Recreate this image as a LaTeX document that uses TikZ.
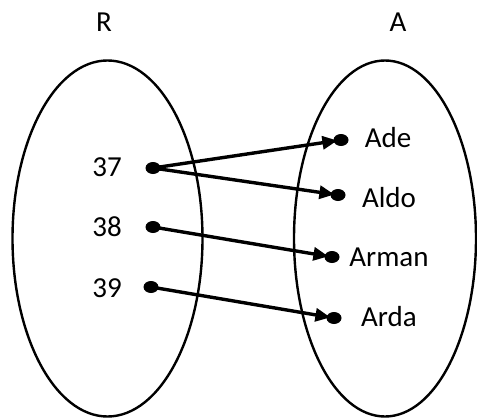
\documentclass[tikz,border=0pt]{standalone}
\usepackage{fontspec}
\setmainfont{Carlito}
\usetikzlibrary{arrows.meta,shapes.geometric}
\begin{document}
\begin{tikzpicture}[x=1pt,y=-1pt,
  setline/.style={line width=2.4pt},
  label/.style={inner sep=0pt,text height=18.5pt,text depth=0pt,
    font=\fontsize{29}{34}\selectfont},
  dot/.style={ellipse,fill=black,inner sep=0pt,minimum width=15pt,minimum height=12pt},
  maparrow/.style={line width=3.4pt,-{Triangle[length=15pt,width=13pt]},shorten >=-4pt}]
\useasboundingbox (0,0) rectangle (477,420);
% the two sets
\draw[setline] (107.5,238.5) ellipse [x radius=95, y radius=178];
\draw[setline] (385,238.5) ellipse [x radius=91, y radius=178];
% set names
\node[label] (R) at (104,22) {R};
\node[label] (A) at (398,22) {A};
% elements of R
\node[label] (n37) at (107,167) {37};
\node[label] (n38) at (107,227) {38};
\node[label] (n39) at (107,288) {39};
\node[dot] (d37) at (153,168) {};
\node[dot] (d38) at (153,227) {};
\node[dot] (d39) at (151,287) {};
% elements of A
\node[label] (ade) at (388,138) {Ade};
\node[label] (aldo) at (389,198) {Aldo};
\node[label] (arman) at (389,257) {Arman};
\node[label] (arda) at (389,317) {Arda};
\node[dot] (dade) at (341,140) {};
\node[dot] (daldo) at (338,195) {};
\node[dot] (darman) at (332,257) {};
\node[dot] (darda) at (334,318) {};
% the mapping
\draw[maparrow] (d37.center) -- (dade);
\draw[maparrow] (d37.center) -- (daldo);
\draw[maparrow] (d38.center) -- (darman);
\draw[maparrow] (d39.center) -- (darda);
\end{tikzpicture}
\end{document}
